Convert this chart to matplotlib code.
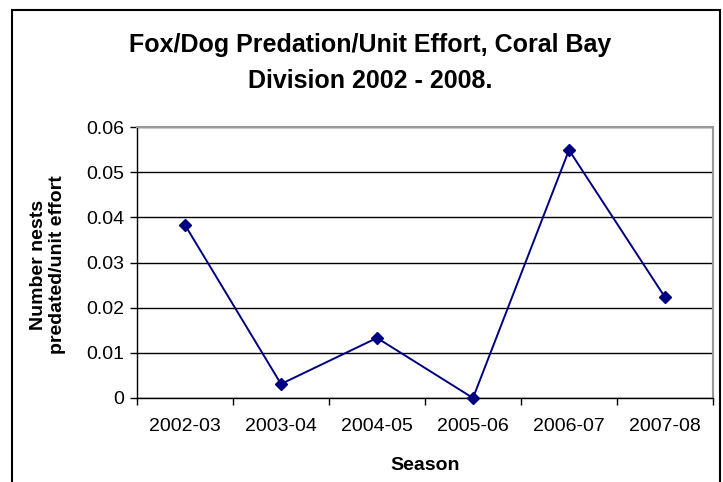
import matplotlib
matplotlib.use("Agg")
import matplotlib.pyplot as plt
from matplotlib.patches import Rectangle

plt.rcParams['font.family'] = ['Liberation Sans', 'DejaVu Sans']

seasons = ["2002-03", "2003-04", "2004-05", "2005-06", "2006-07", "2007-08"]
values = [0.0383, 0.0031, 0.0133, 0.0, 0.0549, 0.0223]
yticks = [0, 0.01, 0.02, 0.03, 0.04, 0.05, 0.06]
ytick_labels = ["0", "0.01", "0.02", "0.03", "0.04", "0.05", "0.06"]

W, H = 723, 482
fig = plt.figure(figsize=(W / 100, H / 100), dpi=100)

# outer chart frame
fig.patches.append(Rectangle((12 / W, -0.01), (720 - 12) / W, (H - 10) / H + 0.01,
                             transform=fig.transFigure, fill=False,
                             edgecolor='black', linewidth=1.5))

ax = fig.add_axes([137 / W, 1 - 398 / H, (713 - 137) / W, (398 - 127) / H])

x = list(range(len(seasons)))
ax.plot(x, values, color='#000080', linewidth=1.4, marker='D',
        markersize=6.3, markerfacecolor='#000080', markeredgecolor='#000080',
        zorder=3, clip_on=False)

ax.set_xlim(-0.5, len(seasons) - 0.5)
ax.set_ylim(0, 0.06)
ax.set_yticks(yticks)
ax.set_yticklabels(ytick_labels, fontsize=14)
ax.set_xticks(x)
ax.set_xticklabels(seasons, fontsize=14)
ax.tick_params(axis='x', length=0, pad=14.5)
ax.set_xticks([i + 0.5 for i in range(-1, len(seasons))], minor=True)
ax.tick_params(axis='x', which='minor', length=5, width=1, direction='out', color='black')
ax.tick_params(axis='y', length=5, width=1, direction='out', color='black', pad=4)

ax.grid(axis='y', color='black', linewidth=1)
ax.set_axisbelow(True)

for s in ['top', 'right']:
    ax.spines[s].set_color('#999999')
    ax.spines[s].set_linewidth(1.5)
for s in ['left', 'bottom']:
    ax.spines[s].set_color('black')
    ax.spines[s].set_linewidth(1)

fig.text(370 / W, 1 - 45 / H, "Fox/Dog Predation/Unit Effort, Coral Bay",
         ha='center', va='center', fontsize=18, fontweight='bold')
fig.text(370 / W, 1 - 81 / H, "Division 2002 - 2008.",
         ha='center', va='center', fontsize=18, fontweight='bold')

fig.text((137 + 713) / 2 / W, 1 - 465 / H, "Season",
         ha='center', va='center', fontsize=14, fontweight='bold')
fig.text(48 / W, 1 - 265 / H, "Number nests\npredated/unit effort",
         ha='center', va='center', rotation=90, fontsize=14, fontweight='bold',
         linespacing=1.2)

fig.savefig("out.png", dpi=100)
